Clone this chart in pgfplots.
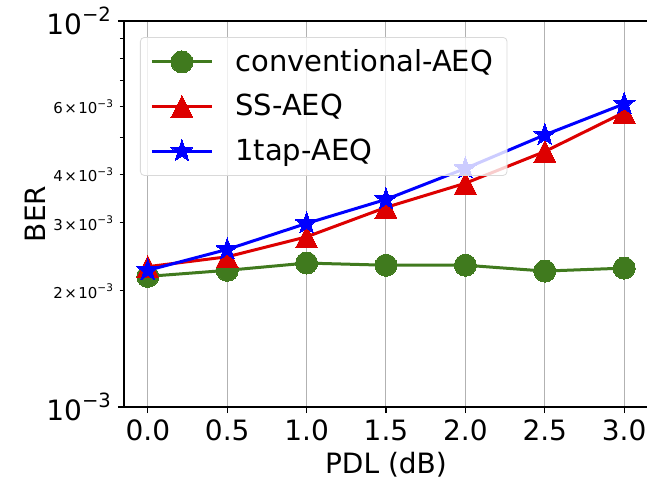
\documentclass[border=0pt]{standalone}
\usepackage{pgfplots}
\pgfplotsset{compat=1.18}
\usepackage{fontspec}
\setmainfont{DejaVu Sans}

\definecolor{cgreen}{RGB}{64,122,30}
\definecolor{cred}{RGB}{221,0,0}
\definecolor{cblue}{RGB}{0,0,255}

% exponent like matplotlib mathtext
\newcommand{\expo}[1]{\raisebox{0.45em}{\scalebox{0.7}{−#1}}}

% filled five point star
\pgfdeclareplotmark{fstar}{%
  \pgfpathmoveto{\pgfpointpolar{90}{\pgfplotmarksize}}%
  \pgfpathlineto{\pgfpointpolar{126}{0.4\pgfplotmarksize}}%
  \pgfpathlineto{\pgfpointpolar{162}{\pgfplotmarksize}}%
  \pgfpathlineto{\pgfpointpolar{198}{0.4\pgfplotmarksize}}%
  \pgfpathlineto{\pgfpointpolar{234}{\pgfplotmarksize}}%
  \pgfpathlineto{\pgfpointpolar{270}{0.4\pgfplotmarksize}}%
  \pgfpathlineto{\pgfpointpolar{306}{\pgfplotmarksize}}%
  \pgfpathlineto{\pgfpointpolar{342}{0.4\pgfplotmarksize}}%
  \pgfpathlineto{\pgfpointpolar{18}{\pgfplotmarksize}}%
  \pgfpathlineto{\pgfpointpolar{54}{0.4\pgfplotmarksize}}%
  \pgfpathclose\pgfusepathqfillstroke}
% matplotlib style triangle (square bbox centred on the point)
\pgfdeclareplotmark{mtri}{%
  \pgfpathmoveto{\pgfqpoint{0pt}{\pgfplotmarksize}}%
  \pgfpathlineto{\pgfqpoint{-\pgfplotmarksize}{-\pgfplotmarksize}}%
  \pgfpathlineto{\pgfqpoint{\pgfplotmarksize}{-\pgfplotmarksize}}%
  \pgfpathclose\pgfusepathqfillstroke}

\begin{document}
\begin{tikzpicture}
\begin{axis}[
    name=ax,
    scale only axis,
    width=262pt, height=193pt,
    ymode=log,
    xmin=-0.15, xmax=3.15,
    ymin=1e-3, ymax=1e-2,
    xtick={0,0.5,1,1.5,2,2.5,3},
    xticklabels={0.0,0.5,1.0,1.5,2.0,2.5,3.0},
    ytick={1e-3,1e-2},
    yticklabels={10\expo{3},10\expo{2}},
    minor ytick={2e-3,3e-3,4e-3,5e-3,6e-3,7e-3,8e-3,9e-3},
    extra y ticks={2e-3,3e-3,4e-3,6e-3},
    extra y tick labels={2\kern0.1em×\kern0.1em10\expo{3},3\kern0.1em×\kern0.1em10\expo{3},4\kern0.1em×\kern0.1em10\expo{3},6\kern0.1em×\kern0.1em10\expo{3}},
    extra y tick style={major tick length=2pt,
      yticklabel style={font=\fontsize{7.5}{9}\selectfont}},
    tick align=outside,
    xtick pos=bottom, ytick pos=left,
    major tick length=3pt, minor tick length=2pt,
    tick style={black, line width=0.6pt},
    every tick label/.append style={font=\fontsize{14}{16}\selectfont},
    axis line style={line width=0.9pt},
    xmajorgrids,
    major x grid style={gray!60, line width=0.5pt},
    xlabel={PDL (dB)},
    ylabel={BER},
    label style={font=\fontsize{14}{16}\selectfont},
    xlabel style={at={(axis description cs:0.5,-0.150)}, anchor=center},
    ylabel style={at={(axis description cs:-0.170,0.5)}, anchor=center},
    legend cell align=left,
    legend image code/.code={%
      \draw[mark repeat=2, mark phase=2, fill opacity=1, draw opacity=1]
        plot coordinates {(0pt,0pt) (15pt,0pt) (30pt,0pt)};},
    legend style={at={(0,1)}, anchor=north west, xshift=8pt, yshift=-8pt,
      draw=black!15, rounded corners=2pt, fill=white,
      fill opacity=0.8, draw opacity=1, text opacity=1,
      font=\fontsize{14.5}{17}\selectfont,
      inner xsep=5pt, inner ysep=4pt,
      row sep=6pt,
      /tikz/every odd column/.style={column sep=9pt}},
  ]
\addplot[cgreen, line width=1.5pt, mark=*, mark size=5.5pt,
  mark options={solid, fill=cgreen, draw=cgreen, line width=0pt}]
  coordinates {(0,2.18e-3) (0.5,2.26e-3) (1,2.36e-3) (1.5,2.33e-3)
               (2,2.33e-3) (2.5,2.25e-3) (3,2.29e-3)};
\addlegendentry{conventional-AEQ}
\addplot[cred, line width=1.5pt, mark=mtri, mark size=5.5pt,
  mark options={solid, fill=cred, draw=cred, line width=0pt}]
  coordinates {(0,2.31e-3) (0.5,2.45e-3) (1,2.76e-3) (1.5,3.29e-3)
               (2,3.80e-3) (2.5,4.59e-3) (3,5.80e-3)};
\addlegendentry{SS-AEQ}
\addplot[cblue, line width=1.5pt, mark=fstar, mark size=5.8pt,
  mark options={solid, fill=cblue, draw=cblue, line width=0pt}]
  coordinates {(0,2.26e-3) (0.5,2.56e-3) (1,2.99e-3) (1.5,3.45e-3)
               (2,4.15e-3) (2.5,5.07e-3) (3,6.10e-3)};
\addlegendentry{1tap-AEQ}
\end{axis}
\pgfresetboundingbox
\path (ax.north west) ++(-62pt,10.5pt) rectangle ++(323.5pt,-240.5pt);
\end{tikzpicture}
\end{document}
